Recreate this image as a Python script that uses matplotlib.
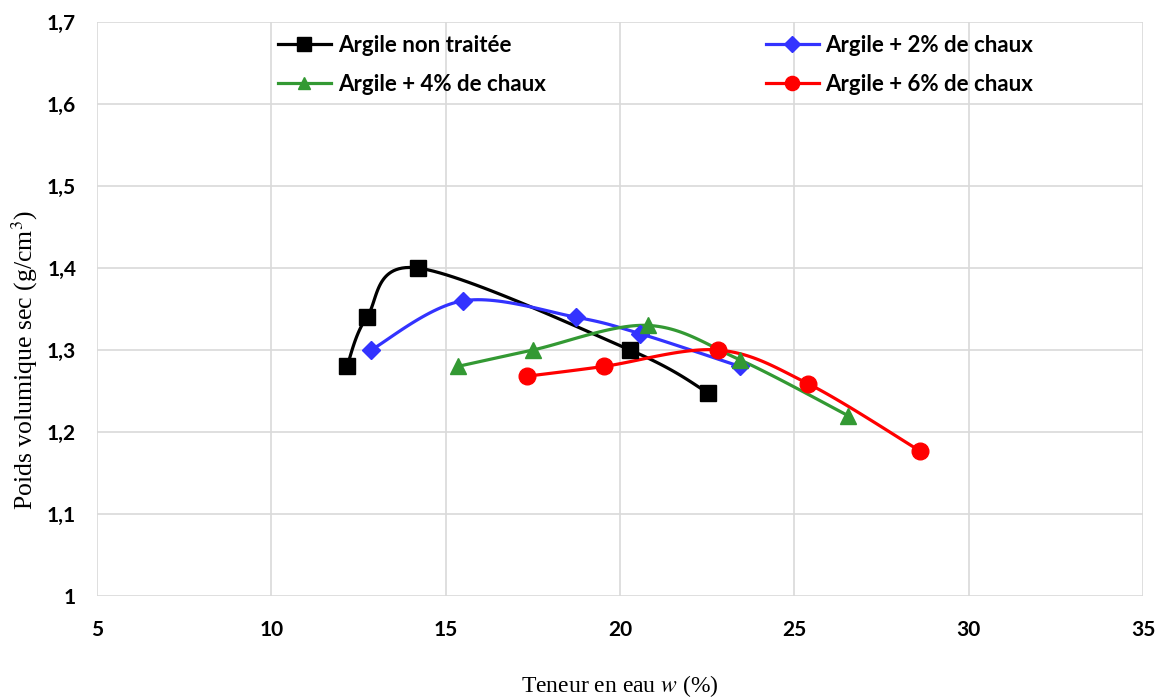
import numpy as np
import matplotlib
matplotlib.use("Agg")
import matplotlib.pyplot as plt
from matplotlib.ticker import FuncFormatter

plt.rcParams["mathtext.fontset"] = "stix"

# données
w_nt = [12.17, 12.74, 14.2, 20.29, 22.52]
g_nt = [1.28, 1.34, 1.40, 1.30, 1.248]

w_2 = [12.86, 15.5, 18.74, 20.57, 23.44]
g_2 = [1.30, 1.36, 1.34, 1.32, 1.28]

w_4 = [15.35, 17.5, 20.8, 23.44, 26.54]
g_4 = [1.28, 1.30, 1.33, 1.288, 1.22]

w_6 = [17.33, 19.54, 22.81, 25.39, 28.6]
g_6 = [1.268, 1.28, 1.30, 1.259, 1.177]

labels = ["Argile non traitée", "Argile + 2% de chaux",
          "Argile + 4% de chaux", "Argile + 6% de chaux"]


def smooth(x, y, n=30):
    # lissage type Excel (Bezier / Catmull-Rom)
    p = np.column_stack([x, y]).astype(float)
    ext = np.vstack([p[0], p, p[-1]])
    out = []
    t = np.linspace(0, 1, n)[:, None]
    for i in range(len(p) - 1):
        p0, p1, p2, p3 = ext[i], ext[i + 1], ext[i + 2], ext[i + 3]
        c1 = p1 + (p2 - p0) / 6
        c2 = p2 - (p3 - p1) / 6
        seg = ((1 - t) ** 3) * p1 + 3 * ((1 - t) ** 2) * t * c1 + 3 * (1 - t) * t ** 2 * c2 + t ** 3 * p2
        out.append(seg)
    s = np.vstack(out)
    return s[:, 0], s[:, 1]


def fmt(v, p):
    if abs(v - 1) < 1e-6:
        return "1"
    return ("%.1f" % v).replace(".", ",")


fig = plt.figure(figsize=(11.61, 6.98), dpi=100)
ax = fig.add_axes([0.0835, 0.1461, 0.901, 0.8224])

series = [
    (w_nt, g_nt, "black", "s", 12, labels[0]),
    (w_2, g_2, "#3333ff", "D", 9, labels[1]),
    (w_4, g_4, "#339933", "^", 11, labels[2]),
    (w_6, g_6, "#ff0000", "o", 12, labels[3]),
]
handles = {}
for x, y, c, m, ms, lab in series:
    sx, sy = smooth(x, y)
    ax.plot(sx, sy, color=c, lw=2.3, zorder=3)
    ax.plot(x, y, ls="none", marker=m, ms=ms, color=c, zorder=4)
    h, = ax.plot([], [], color=c, lw=2.3, marker=m, ms=ms * 0.85)
    handles[lab] = h

ax.set_xlim(5, 35)
ax.set_ylim(1, 1.7)
ax.set_xticks(np.arange(5, 36, 5))
ax.set_yticks(np.arange(1, 1.71, 0.1))
ax.yaxis.set_major_formatter(FuncFormatter(fmt))
ax.grid(True, color="#d9d9d9", lw=1.2)
ax.set_axisbelow(True)
for s in ax.spines.values():
    s.set_visible(False)
ax.tick_params(length=0, labelsize=15)
ax.tick_params(axis="x", pad=17)
ax.tick_params(axis="y", pad=15)
for t in ax.get_xticklabels() + ax.get_yticklabels():
    t.set_fontweight("bold")
    t.set_family("Lato")

ax.set_xlabel("Teneur en eau $w$ (%)", family="Liberation Serif", fontsize=17)
ax.xaxis.set_label_coords(0.5, -0.135)
ax.set_ylabel("Poids volumique sec (g/cm$^3$)", family="Liberation Serif", fontsize=18.5)
ax.yaxis.set_label_coords(-0.054, 0.41)

order = [labels[0], labels[2], labels[1], labels[3]]
ax.legend([handles[k] for k in order], order, ncol=2, loc="upper center",
          bbox_to_anchor=(0.534, 1.012), frameon=False, handlelength=2.4,
          columnspacing=9.9, labelspacing=0.8, handletextpad=0.3,
          prop={"family": "Lato", "weight": "bold", "size": 16})

fig.savefig("out.png", dpi=100)
